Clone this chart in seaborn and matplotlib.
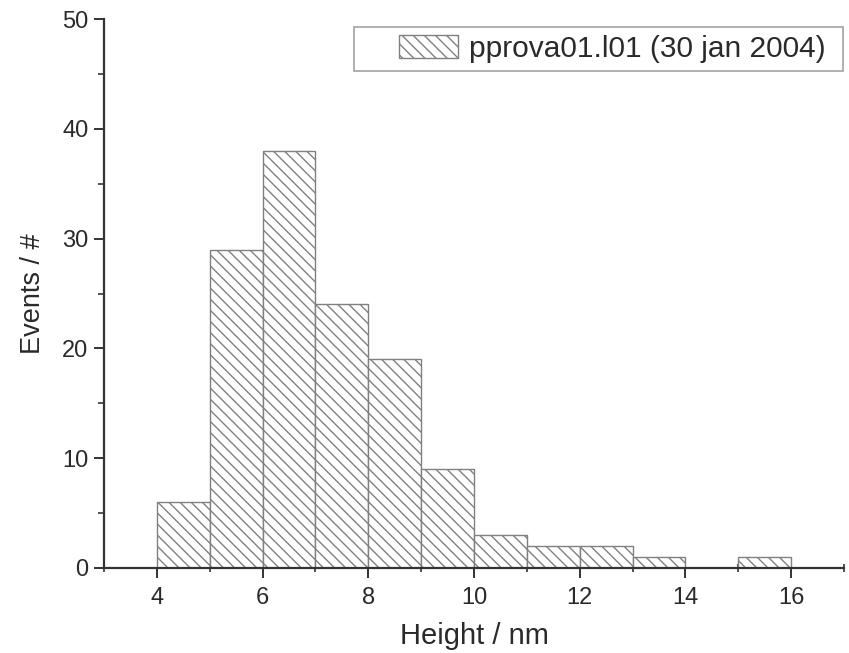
import numpy as np
import pandas as pd
import matplotlib
matplotlib.use("Agg")
import matplotlib.pyplot as plt
from matplotlib.ticker import MultipleLocator
from matplotlib.path import Path
from matplotlib.container import BarContainer
from matplotlib.legend_handler import HandlerPatch, update_from_first_child
import seaborn as sns

# Height histogram (1 nm bins from 4 to 16 nm)
bin_edges = [4, 5, 6, 7, 8, 9, 10, 11, 12, 13, 14, 15, 16]
counts = [6, 29, 38, 24, 19, 9, 3, 2, 2, 1, 0, 1]
series_label = "pprova01.l01 (30 jan 2004)"

centers = [(a + b) / 2 for a, b in zip(bin_edges[:-1], bin_edges[1:])]
df = pd.DataFrame({"height": centers, "events": counts})

sns.set_style("ticks")
plt.rcParams["font.family"] = ["Liberation Sans", "DejaVu Sans"]
plt.rcParams["hatch.linewidth"] = 1.0
plt.rcParams["hatch.color"] = "#808080"

TEXT = "#2a2a2a"
AXIS = "#333333"

fig = plt.figure(figsize=(8.49, 6.53), dpi=100)
ax = fig.add_axes([104 / 849, 85 / 653, 740 / 849, 549 / 653])

sns.histplot(data=df, x="height", weights="events", bins=bin_edges,
             ax=ax, color="white", edgecolor="#808080", linewidth=1.0,
             alpha=1.0, hatch="\\\\\\", label=series_label)

ax.set_xlim(3, 17)
ax.set_ylim(0, 50)
ax.xaxis.set_major_locator(MultipleLocator(2))
ax.xaxis.set_minor_locator(MultipleLocator(1))
ax.yaxis.set_major_locator(MultipleLocator(10))
ax.yaxis.set_minor_locator(MultipleLocator(5))
ax.set_xticks(range(4, 17, 2))

for side in ("top", "right"):
    ax.spines[side].set_visible(False)
for side in ("left", "bottom"):
    ax.spines[side].set_color(AXIS)
    ax.spines[side].set_linewidth(1.6)

ax.tick_params(axis="x", which="major", direction="out", length=7.5, width=1.4,
               pad=6, colors=AXIS, labelsize=17, labelcolor=TEXT)
ax.tick_params(axis="y", which="major", direction="out", length=7.2, width=1.4,
               pad=4, colors=AXIS, labelsize=17, labelcolor=TEXT)
ax.tick_params(axis="x", which="minor", direction="inout", length=6, width=1.2,
               colors=AXIS)
ax.tick_params(axis="y", which="minor", direction="out", length=4.3, width=1.2,
               colors=AXIS)

ax.set_xlabel("Height / nm", fontsize=21, color=TEXT, labelpad=9.5)
ax.set_ylabel("Events / #", fontsize=19.5, color=TEXT, labelpad=12)


# Legend frame with a wide left margin and tighter top/bottom margins (pixels)
def legend_box(x0, y0, width, height, mutation_scale, left=45, right=17,
               top=8, bottom=8):
    xa, xb = x0 - left, x0 + width + right
    ya, yb = y0 - bottom, y0 + height + top
    verts = [(xa, ya), (xb, ya), (xb, yb), (xa, yb), (xa, ya)]
    codes = [Path.MOVETO, Path.LINETO, Path.LINETO, Path.LINETO, Path.CLOSEPOLY]
    return Path(verts, codes)


leg_fs = 21.5
fs_px = leg_fs * 100 / 72
leg = ax.legend(loc="upper right", bbox_to_anchor=((826 - 104) / 740, 1 - 16 / 549),
                fontsize=leg_fs, frameon=True, fancybox=False, edgecolor="#8a8a8a",
                handlelength=59 / fs_px, handleheight=23 / fs_px,
                borderpad=0.0, handletextpad=11 / fs_px, borderaxespad=0.0,
                handler_map={BarContainer: HandlerPatch(update_func=update_from_first_child)})
frame = leg.get_frame()
frame.set_boxstyle(legend_box)
frame.set_linewidth(1.2)
frame.set_facecolor("white")
for t in leg.get_texts():
    t.set_color(TEXT)

fig.savefig("out.png", dpi=100)
